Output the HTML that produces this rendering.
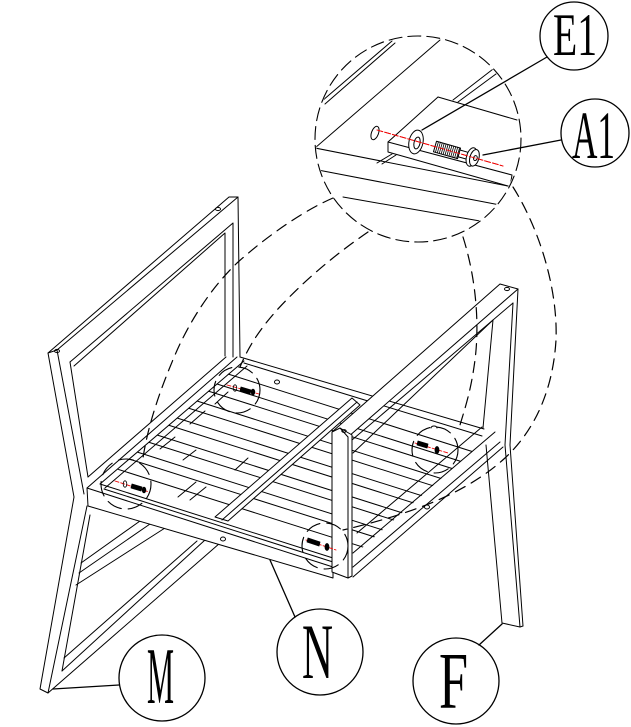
<!DOCTYPE html>
<html><head><meta charset="utf-8"><style>
html,body{margin:0;padding:0;background:#fff;}
svg{display:block;}
text{font-family:"Liberation Serif",serif;fill:#000;stroke:none;}
</style></head><body>
<svg width="631" height="727" viewBox="0 0 631 727" xmlns="http://www.w3.org/2000/svg">
<defs>
<clipPath id="seatclip"><polygon points="99,486 244,360 492,434 353,556 335,562"/></clipPath>
<clipPath id="detclip"><circle cx="418" cy="139" r="102"/></clipPath>
</defs>
<rect width="631" height="727" fill="#fff"/>
<g stroke="#000" stroke-width="1" fill="none" stroke-linecap="round" stroke-linejoin="round">

<!-- LEFT FRAME (M) -->
<path d="M48,353 L229,197 L238,197 L57,350 Z"/>
<path d="M70,362 L233,223 L233,357"/>
<path d="M74,366 L225,233 L225,356"/>
<path d="M238,197 L240,357"/>
<path d="M48,353 L74,497 L40,689 L48,693"/>
<path d="M57,350 L84,494"/>
<path d="M70,362 L88,477"/>
<path d="M87,506 L48,693"/>
<path d="M90,515 L62,671"/>
<path d="M48,693 L220,543"/>
<path d="M62,671 L205,540"/>
<path d="M64,658 L197,541"/>
<path d="M81,563 L140,521"/>
<path d="M79,573 L150,524"/>
<path d="M76,585 L165,528"/>
<ellipse cx="57" cy="351" rx="2.5" ry="1.6"/>
<ellipse cx="218" cy="209" rx="2.5" ry="1.6"/>

<!-- RIGHT FRAME rear leg (behind seat) -->
<path d="M486,445 L502,623 L520,627 L523,626"/>
<path d="M505,445 L520,627"/>
<path d="M510,445 L523,626"/>

<!-- SEAT slats -->
<g clip-path="url(#seatclip)">
<path d="M117,469 L517,596"/>
<path d="M129,459 L529,586"/>
<path d="M137,452 L537,579"/>
<path d="M148,442 L548,569"/>
<path d="M157,435 L557,562"/>
<path d="M168,425 L568,552"/>
<path d="M177,418 L577,545"/>
<path d="M188,408 L588,535"/>
<path d="M197,401 L597,528"/>
<path d="M208,391 L608,518"/>
<path d="M217,384 L617,511"/>
<path d="M228,374 L628,501"/>
<path d="M160,449 L175,437"/>
<path d="M190,424 L205,411"/>
<path d="M215,404 L228,392"/>
<path d="M183,460 L196,450"/>
<path d="M178,497 L196,482"/>
<path d="M190,500 L206,487"/>
<path d="M235,470 L248,458"/>
</g>

<!-- seat left side -->
<path d="M88,477 L226,357"/>
<path d="M87,488 L237,357"/>
<path d="M100,484 L244,361"/>
<path d="M105,488 L247,366"/>
<!-- back rail -->
<path d="M240,357 L484,429"/>
<path d="M244,363 L482,436"/>
<!-- front rail -->
<polygon points="87,488 333,567 333,578 88,506" fill="#fff"/>
<path d="M100,484 L333,558"/>
<path d="M104,489 L333,562"/>
<ellipse cx="223" cy="539" rx="2.5" ry="2"/>
<ellipse cx="277" cy="382" rx="2.5" ry="2"/>
<!-- crossbar -->
<polygon points="215,517 352,398 360,405 228,521" fill="#fff"/>
<path d="M222,520 L357,402"/>

<!-- RIGHT FRAME (F) -->
<path d="M353,577 L503,447"/>
<path d="M353,567 L500,442"/>
<path d="M353,553 L495,432"/>
<path d="M357,533 L482,427"/>
<ellipse cx="427" cy="507" rx="2.5" ry="2"/>
<path d="M431,428 a3,2 0 1 1 6,0"/>
<!-- armrest top rail -->
<path d="M332,432 L500,284 L518,289 L348,437 Z" fill="#fff"/>
<path d="M352,440 L513,303"/>
<path d="M353,453 L493,320"/>
<path d="M518,289 L510,445"/>
<path d="M513,303 L505,445"/>
<path d="M493,320 L483,428"/>
<ellipse cx="507" cy="289" rx="2.5" ry="1.6"/>
<!-- front post -->
<polygon points="332,432 340,428 352,435 352,576 348,578 332,572" fill="#fff"/>
<path d="M348,437 L348,578"/>
<path d="M340,428 L348,437"/>
<ellipse cx="344" cy="431" rx="2.2" ry="1.4"/>

<!-- joint screws -->
<g stroke="#e00" stroke-dasharray="4 2" stroke-width="0.9">
<path d="M115,481 L149,492"/>
<path d="M227,385 L259,394"/>
<path d="M415,443 L448,453"/>
<path d="M306,540 L336,550"/>
</g>
<g fill="#000" stroke="#000" stroke-width="0.8">
<ellipse cx="125" cy="484" rx="1.8" ry="3.2" fill="none"/>
<polygon points="132,484 142,487 141,491 131,488"/>
<ellipse cx="144" cy="490" rx="1.8" ry="2.8"/>
<ellipse cx="235" cy="388" rx="1.8" ry="3.2" fill="none"/>
<polygon points="241,387 251,390 250,394 240,391"/>
<ellipse cx="253" cy="392" rx="1.8" ry="2.8"/>
<polygon points="418,441 428,444 427,448 417,445"/>
<ellipse cx="437" cy="450" rx="2" ry="3.5"/>
<polygon points="308,538 320,542 319,546 307,542"/>
<ellipse cx="327" cy="547" rx="2" ry="3.5"/>
</g>

<!-- small dashed circles -->
<g stroke-dasharray="15 7" stroke-width="1.1">
<circle cx="126" cy="484" r="25"/>
<circle cx="237" cy="390" r="23"/>
<circle cx="435" cy="450" r="23"/>
<circle cx="325" cy="546" r="23"/>
</g>

<!-- DETAIL CIRCLE contents -->
<g clip-path="url(#detclip)">
<path d="M315,148 L440,40"/>
<path d="M322,101 L392,41"/>
<path d="M325,104 L395,43"/>
<path d="M315,148 L513,187"/>
<path d="M318,170 L500,205"/>
<path d="M343,197 L480,221"/>
<path d="M453,100 L497,66"/>
<path d="M458,102 L500,71"/>
<path d="M377,163 L392,154"/>
<path d="M382,164 L396,155"/>
<!-- bracket block -->
<path d="M438,97 L517,120"/>
<path d="M438,97 L388,142 L388,152 L508,186"/>
<path d="M388,142 L512,175 L510,187"/>
<ellipse cx="375" cy="133" rx="3.5" ry="7" transform="rotate(20 375 133)"/>
</g>
<!-- washer -->
<ellipse cx="416" cy="142" rx="7" ry="12" transform="rotate(12 416 142)" fill="#fff"/>
<ellipse cx="417" cy="143" rx="3" ry="6" transform="rotate(12 417 143)"/>
<!-- red axis -->
<path d="M377,130 L503,166" stroke="#e00" stroke-dasharray="6 2" stroke-width="0.9"/>
<!-- screw -->
<g transform="translate(435,146.5) rotate(16)">
<rect x="0" y="-5.5" width="25" height="11" fill="#fff"/>
<path d="M2,-5.5 V5.5 M4,-5.5 V5.5 M6,-5.5 V5.5 M8,-5.5 V5.5 M10,-5.5 V5.5 M12,-5.5 V5.5 M14,-5.5 V5.5 M16,-5.5 V5.5 M18,-5.5 V5.5 M20,-5.5 V5.5 M22,-5.5 V5.5 M24,-5.5 V5.5" stroke-width="0.8"/>
<path d="M25,-3.5 L36,-3.5 M25,3.5 L36,3.5"/>
<ellipse cx="38" cy="0" rx="5" ry="9.5" fill="#fff"/>
<ellipse cx="41" cy="0" rx="4.5" ry="8.5" fill="#fff"/>
<ellipse cx="42" cy="0" rx="1.8" ry="2.5"/>
</g>
<path d="M377,130 L503,166" stroke="#e00" stroke-dasharray="6 2" stroke-width="0.9"/>
<circle cx="418" cy="139" r="103" stroke-dasharray="13 6" stroke-width="1.1"/>

<!-- leader curves (dashed) -->
<g stroke-dasharray="11 7" stroke-width="1.2">
<path d="M333,198 C305,210 268,235 237,263 C212,287 190,320 175,355 C160,390 148,425 143,458"/>
<path d="M368,232 C330,258 300,285 277,310 C262,327 250,343 240,367"/>
<path d="M463,237 C475,275 480,320 475,360 C471,390 466,405 460,425"/>
<path d="M513,187 C540,230 558,290 556,340 C553,390 535,430 505,458 C470,490 420,512 343,530"/>
</g>

<!-- label circles & leaders -->
<g stroke-width="1.3">
<circle cx="574" cy="36" r="34"/>
<circle cx="595" cy="133" r="34"/>
<circle cx="162" cy="678" r="43"/>
<circle cx="320" cy="652" r="43"/>
<circle cx="456" cy="681" r="43"/>
<path d="M547,57 L422,130"/>
<path d="M561,140 L483,155"/>
<path d="M119,685 L53,689"/>
<path d="M295,617 L270,560"/>
<path d="M479,645 L502,624"/>
</g>
</g>

<text x="553" y="55" font-size="60" textLength="44" lengthAdjust="spacingAndGlyphs">E1</text>
<text x="572" y="158" font-size="68" textLength="43" lengthAdjust="spacingAndGlyphs">A1</text>
<text x="147" y="703" font-size="80" textLength="27" lengthAdjust="spacingAndGlyphs">M</text>
<text x="302" y="678" font-size="78" textLength="31" lengthAdjust="spacingAndGlyphs">N</text>
<text x="439" y="708" font-size="80" textLength="29" lengthAdjust="spacingAndGlyphs">F</text>
</svg>
</body></html>
